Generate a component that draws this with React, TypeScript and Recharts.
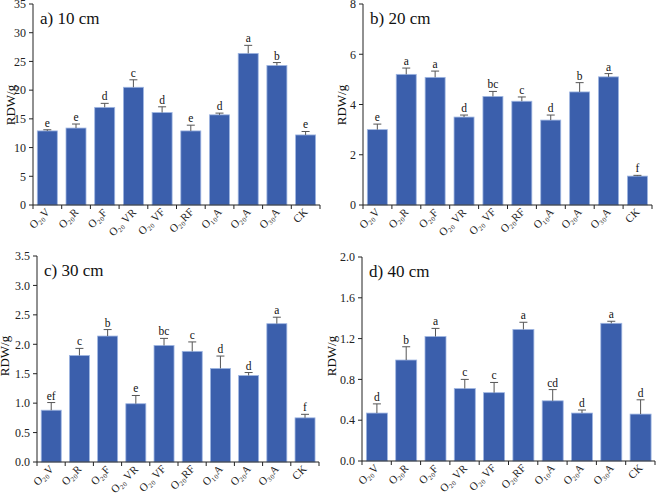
import React, { useState } from 'react';
import { createPortal } from 'react-dom';
import { BarChart, Bar, XAxis, YAxis } from 'recharts';

const categories = ['O20V', 'O20R', 'O20F', 'O20 VR', 'O20 VF', 'O20RF', 'O10A', 'O20A', 'O30A', 'CK'];

const valuesA = [12.9, 13.4, 17.0, 20.5, 16.1, 12.9, 15.7, 26.4, 24.3, 12.2];
const errorsA = [0.2, 0.7, 0.7, 1.3, 1.0, 1.0, 0.3, 1.4, 0.5, 0.6];
const lettersA = ['e', 'e', 'd', 'c', 'd', 'e', 'd', 'a', 'b', 'e'];
const ticksA = [0, 5, 10, 15, 20, 25, 30, 35];

const valuesB = [3.0, 5.2, 5.08, 3.5, 4.32, 4.13, 3.38, 4.5, 5.1, 1.15];
const errorsB = [0.22, 0.25, 0.25, 0.08, 0.2, 0.17, 0.2, 0.37, 0.13, 0.03];
const lettersB = ['e', 'a', 'a', 'd', 'bc', 'c', 'd', 'b', 'a', 'f'];
const ticksB = [0, 2, 4, 6, 8];

const valuesC = [0.88, 1.81, 2.14, 0.99, 1.98, 1.88, 1.59, 1.47, 2.35, 0.75];
const errorsC = [0.13, 0.12, 0.11, 0.14, 0.12, 0.16, 0.21, 0.05, 0.11, 0.06];
const lettersC = ['ef', 'c', 'b', 'e', 'bc', 'c', 'd', 'd', 'a', 'f'];
const ticksC = [0, 0.5, 1.0, 1.5, 2.0, 2.5, 3.0, 3.5];

const valuesD = [0.47, 0.99, 1.22, 0.71, 0.67, 1.29, 0.59, 0.47, 1.35, 0.46];
const errorsD = [0.09, 0.13, 0.08, 0.09, 0.10, 0.07, 0.11, 0.03, 0.02, 0.14];
const lettersD = ['d', 'b', 'a', 'c', 'c', 'a', 'cd', 'd', 'a', 'd'];
const ticksD = [0, 0.4, 0.8, 1.2, 1.6, 2.0];

const FONT = 'Liberation Serif, Times New Roman, Times, serif';
const BAR_FILL = '#3b5fac';
const XTICK_FONT_SIZE = 11;

const build = (vals: number[], errs: number[], lets: string[]) =>
  categories.map((c, i) => ({ name: c, v: vals[i], e: errs[i], l: lets[i] }));

// "O20V" -> "O₂₀V"
const toSubscript = (label: string) =>
  label.replace(/^O(\d+)/, (_s: string, d: string) =>
    'O' + d.split('').map((c) => String.fromCharCode(0x2080 + Number(c))).join('')
  );

let measureCtx: CanvasRenderingContext2D | null = null;
const measure = (text: string) => {
  if (typeof document === 'undefined') return text.length * 5;
  if (!measureCtx) measureCtx = document.createElement('canvas').getContext('2d');
  if (!measureCtx) return text.length * 5;
  measureCtx.font = `${XTICK_FONT_SIZE}px ${FONT}`;
  return measureCtx.measureText(text).width;
};

const BarShape = (props: any) => {
  const { x, y, width, height, payload } = props;
  if (x == null || !payload) return null;
  const pxPerUnit = payload.v ? height / payload.v : 0;
  const errPx = payload.e * pxPerUnit;
  const cx = x + width / 2;
  const topY = y - errPx;
  return (
    <g>
      <rect x={x} y={y} width={width} height={height} fill={BAR_FILL} stroke="#9fb6e2" strokeWidth={0.8} />
      <line x1={cx} y1={y} x2={cx} y2={topY} stroke="#555" strokeWidth={1} />
      <line x1={cx - 4} y1={topY} x2={cx + 4} y2={topY} stroke="#555" strokeWidth={1} />
      <text x={cx} y={topY - 3} textAnchor="middle" style={{ fontFamily: FONT }} fontSize={11.5} fill="#111">
        {payload.l}
      </text>
    </g>
  );
};

// Tick marks sit on category boundaries; the rotated label is placed (via a portal)
// into the page-level overlay svg, at the tick position the axis computed.
const makeXTick = (bw: number, last: string, overlay: SVGSVGElement | null, offX: number, offY: number, id: string) =>
  (props: any) => {
    const { x, y, payload } = props;
    const label: string = payload.value;
    const text = toSubscript(label);
    const ex = offX + Number(x) + 3;
    const ey = offY + Number(y) + 8;
    const half = measure(text) / 2;
    const cx = Math.round(ex - half * Math.SQRT1_2);
    const cy = Math.round(ey + half * Math.SQRT1_2);
    return (
      <g>
        <line x1={x - bw / 2} y1={y} x2={x - bw / 2} y2={y + 4} stroke="#222" strokeWidth={1} />
        {label === last && <line x1={x + bw / 2} y1={y} x2={x + bw / 2} y2={y + 4} stroke="#222" strokeWidth={1} />}
        {overlay &&
          createPortal(
            <text x={cx} y={cy} textAnchor="middle" transform={`rotate(-45, ${cx}, ${cy})`}
              style={{ fontFamily: FONT }} fontSize={XTICK_FONT_SIZE} fill="#222">
              {text}
            </text>,
            overlay,
            `${id}-${label}`
          )}
      </g>
    );
  };

type PanelProps = {
  id: string;
  left: number;
  top: number;
  data: any[];
  ticks: number[];
  decimals: number;
  title: string;
  margin: { top: number; right: number };
  yWidth: number;
  xHeight: number;
  overlay: SVGSVGElement | null;
};

const W = 329;
const H = 247;

const Panel = ({ id, left, top, data, ticks, decimals, title, margin, yWidth, xHeight, overlay }: PanelProps) => {
  const plotW = W - yWidth - margin.right;
  const bw = plotW / categories.length;
  const max = ticks[ticks.length - 1];
  return (
    <div style={{ position: 'absolute', left, top, width: W, height: H }}>
      <BarChart
        width={W}
        height={H}
        data={data}
        margin={{ top: margin.top, right: margin.right, left: 0, bottom: 0 }}
        barCategoryGap="15%"
      >
        <XAxis
          dataKey="name"
          xAxisId="b"
          interval={0}
          height={xHeight}
          tickSize={0}
          tickMargin={0}
          tickLine={false}
          axisLine={{ stroke: '#222', strokeWidth: 1 }}
          tick={makeXTick(bw, 'CK', overlay, left, top, id)}
        />
        <XAxis
          dataKey="name"
          xAxisId="t"
          orientation="top"
          height={0}
          tick={false}
          tickLine={false}
          axisLine={{ stroke: '#555', strokeWidth: 1 }}
        />
        <YAxis
          yAxisId="l"
          width={yWidth}
          domain={[0, max]}
          ticks={ticks}
          interval={0}
          tickSize={4}
          tickMargin={3}
          tickLine={{ stroke: '#222' }}
          axisLine={{ stroke: '#222', strokeWidth: 1 }}
          tick={{ fontSize: 12, fill: '#222', style: { fontFamily: FONT } }}
          tickFormatter={(v: number) => v.toFixed(decimals)}
        />
        <YAxis
          yAxisId="r"
          orientation="right"
          width={0}
          domain={[0, max]}
          tick={false}
          tickLine={false}
          axisLine={{ stroke: '#555', strokeWidth: 1 }}
        />
        <Bar dataKey="v" xAxisId="b" yAxisId="l" isAnimationActive={false} shape={BarShape} />
      </BarChart>
      <div
        style={{
          position: 'absolute',
          left: yWidth + 7,
          top: margin.top + 5,
          fontFamily: FONT,
          fontSize: 17,
          color: '#111',
          lineHeight: '20px',
          whiteSpace: 'nowrap',
        }}
      >
        {title}
      </div>
    </div>
  );
};

const yLabels = [
  { x: 10, y: 105 },
  { x: 341, y: 105 },
  { x: 4, y: 356 },
  { x: 331, y: 356 },
];

export default function App() {
  const [overlay, setOverlay] = useState<SVGSVGElement | null>(null);
  return (
    <div style={{ position: 'absolute', left: 0, top: 0, width: 658, height: 494, background: '#fff', overflow: 'hidden', fontFamily: FONT }}>
      <Panel id="a" left={0} top={0} data={build(valuesA, errorsA, lettersA)} ticks={ticksA} decimals={0}
        title="a) 10 cm" margin={{ top: 4, right: 9 }} yWidth={33} xHeight={42} overlay={overlay} />
      <Panel id="b" left={329} top={0} data={build(valuesB, errorsB, lettersB)} ticks={ticksB} decimals={0}
        title="b) 20 cm" margin={{ top: 4, right: 6 }} yWidth={34} xHeight={42} overlay={overlay} />
      <Panel id="c" left={0} top={247} data={build(valuesC, errorsC, lettersC)} ticks={ticksC} decimals={1}
        title="c) 30 cm" margin={{ top: 9, right: 10 }} yWidth={37} xHeight={32} overlay={overlay} />
      <Panel id="d" left={329} top={247} data={build(valuesD, errorsD, lettersD)} ticks={ticksD} decimals={1}
        title="d) 40 cm" margin={{ top: 10, right: 3 }} yWidth={33} xHeight={33} overlay={overlay} />
      <svg ref={setOverlay} width={658} height={494} style={{ position: 'absolute', left: 0, top: 0, pointerEvents: 'none' }}>
        {yLabels.map((p, i) => (
          <text key={i} x={p.x} y={p.y} textAnchor="middle" dominantBaseline="central"
            transform={`rotate(-90, ${p.x}, ${p.y})`} style={{ fontFamily: FONT }} fontSize={13} fill="#111">
            RDW/g
          </text>
        ))}
      </svg>
    </div>
  );
}
